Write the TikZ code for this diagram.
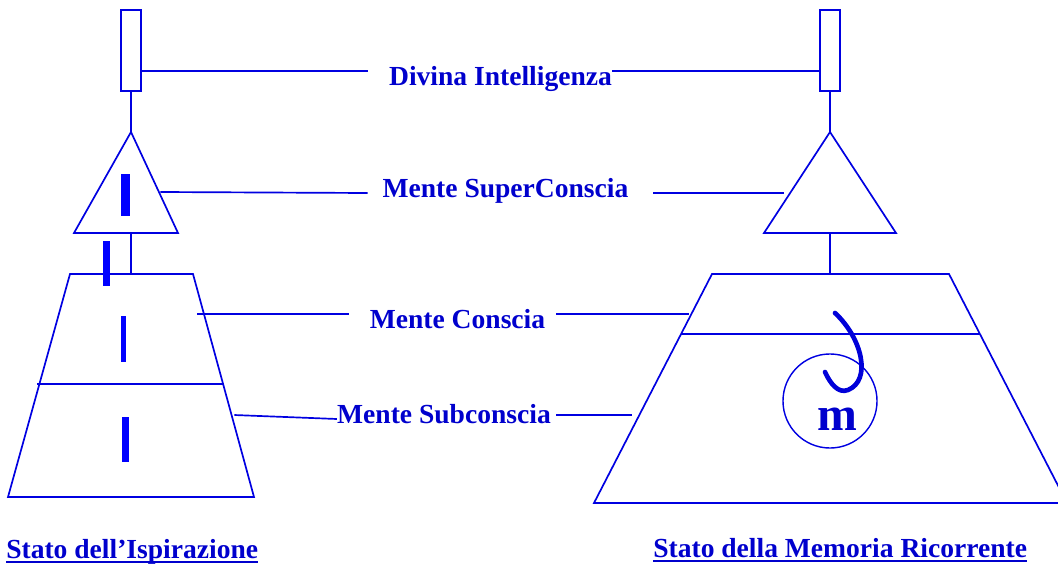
\documentclass[tikz,border=0pt]{standalone}
\usepackage{fontspec}
\setmainfont{Liberation Serif}
\usepackage{tikz}
\definecolor{lineblue}{RGB}{0,0,225}
\definecolor{textblue}{RGB}{0,0,205}
\newcommand\tagfont{\fontsize{19.6}{23}\selectfont\bfseries}

\begin{document}
\begin{tikzpicture}
  [x=0.025cm, y=-0.025cm,
   enode/.style={minimum size=0, inner sep=0},
   tag/.style={enode, anchor=base, text=textblue, font=\tagfont},
   link/.style={draw=lineblue, line width=1.2pt},
   slot/.style={link, minimum width=0.5cm, minimum height=2.025cm, inner sep=0}]

  \useasboundingbox (0,0) rectangle (1058,565);

  % left column
  \node[slot] (slotL) at (131,50.5) {};
  \coordinate (apexL) at (131,132);
  \coordinate (baseL) at (131,233);
  \coordinate (topL) at (131,274);
  \draw[link] (apexL) -- (74,233) -- (178,233) -- cycle;
  \draw[link] (slotL.south) -- (apexL);
  \draw[link] (baseL) -- (topL);
  \draw[link] (70,274) -- (193,274) -- (254,497) -- (8,497) -- cycle;
  \draw[link] (37,384) -- (223,384);

  % flashes of inspiration
  \fill[blue] (121,174) rectangle (130,216);
  \fill[blue] (103,241) rectangle (110,286);
  \fill[blue] (121,316) rectangle (126,362);
  \fill[blue] (122,417) rectangle (129,462);

  % right column
  \node[slot] (slotR) at (830,50.5) {};
  \coordinate (apexR) at (830,132);
  \coordinate (baseR) at (830,233);
  \coordinate (topR) at (830,274);
  \draw[link] (apexR) -- (764,233) -- (896,233) -- cycle;
  \draw[link] (slotR.south) -- (apexR);
  \draw[link] (baseR) -- (topR);
  \draw[link] (712,274) -- (949,274) -- (1067,503) -- (594,503) -- cycle;
  \draw[link] (681,334) -- (980,334);

  % recurring memory
  \node[enode, draw=lineblue, line width=1pt, circle, minimum size=2.35cm] (mem) at (830,401) {};
  \node[enode, anchor=base, text=textblue, font=\fontsize{34}{36}\selectfont\bfseries] (m) at (837,430) {m};
  \draw[blue!85!black, line width=3.3pt, line cap=round]
    (835,313) .. controls (862,338) and (872,380) .. (848,390)
              .. controls (838,394) and (830,383) .. (825,372);

  % level names
  \node[tag] (divina) at (500.5,86) {Divina Intelligenza};
  \node[tag] (superc) at (505.5,197) {Mente SuperConscia};
  \node[tag] (conscia) at (457.5,328) {Mente Conscia};
  \node[tag] (subc) at (444,423) {Mente Subconscia};

  \node[enode] (d1) at (slotL.east |- 0,71) {};
  \node[enode] (d2) at (368,71) {};
  \node[enode] (d3) at (divina.east |- 0,71) {};
  \node[enode] (d4) at (slotR.west |- 0,71) {};
  \draw[link] (d1) -- (d2);
  \draw[link] (d3) -- (d4);

  \node[enode] (s1) at (160,192) {};
  \node[enode] (s2) at (368,193) {};
  \node[enode] (s3) at (653,193) {};
  \node[enode] (s4) at (784,193) {};
  \draw[link] (s1) -- (s2);
  \draw[link] (s3) -- (s4);

  \node[enode] (c1) at (197,314) {};
  \node[enode] (c2) at (349,314) {};
  \node[enode] (c3) at (556,314) {};
  \node[enode] (c4) at (689,314) {};
  \draw[link] (c1) -- (c2);
  \draw[link] (c3) -- (c4);

  \node[enode] (u1) at (234,415) {};
  \node[enode] (u3) at (556,415) {};
  \node[enode] (u4) at (632,415) {};
  \draw[link] (u1) -- (subc.west |- 0,419);
  \draw[link] (u3) -- (u4);

  % titles
  \node[tag, anchor=base west] (titleL) at (6,558) {Stato dell'Ispirazione};
  \node[tag, anchor=base west] (titleR) at (653,557) {Stato della Memoria Ricorrente};
  \draw[textblue, line width=1.3pt] ([yshift=-0.1cm]titleL.base west) -- ([yshift=-0.1cm]titleL.base east);
  \draw[textblue, line width=1.3pt] ([yshift=-0.1cm]titleR.base west) -- ([yshift=-0.1cm]titleR.base east);

\end{tikzpicture}
\end{document}
